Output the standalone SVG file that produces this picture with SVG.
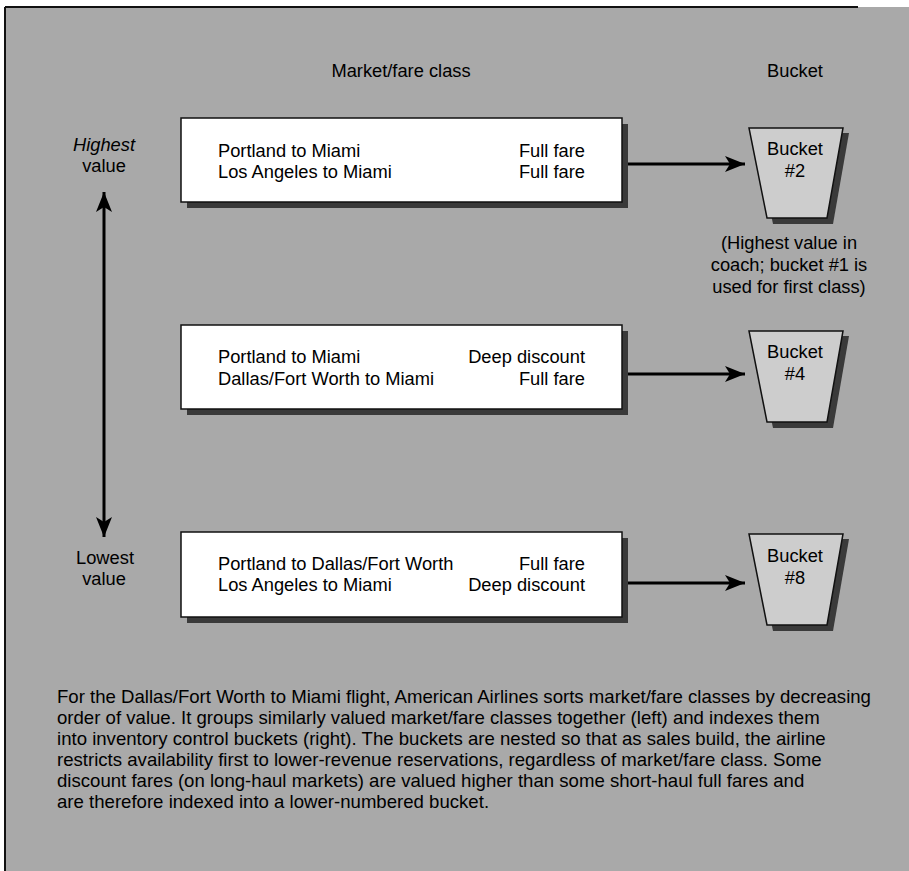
<svg xmlns="http://www.w3.org/2000/svg" width="909" height="871" viewBox="0 0 909 871">
  <style>
    text { font-family: "Liberation Sans", Arial, sans-serif; fill: #000; }
    .t18 { font-size: 18.3px; }
    .cap { font-size: 18.6px; }
    .mid { text-anchor: middle; }
    .end { text-anchor: end; }
    .box { fill: #ffffff; stroke: #111; stroke-width: 1.5; }
    .shadow { fill: #3a3a3a; }
    .bucket { fill: #cdcdcd; stroke: #111; stroke-width: 1.5; }
    .conn { stroke: #000; stroke-width: 3; fill: none; }
  </style>
  <defs>
    <marker id="ah" viewBox="0 0 20 16" refX="20" refY="8" markerWidth="20" markerHeight="16" markerUnits="userSpaceOnUse" orient="auto-start-reverse">
      <path d="M0,0 L20,8 L0,16 L5,8 Z" fill="#000"/>
    </marker>
  </defs>

  <rect x="0" y="0" width="909" height="871" fill="#ffffff"/>
  <g id="frame">
    <rect x="5" y="7" width="904" height="864" fill="#a9a9a9"/>
    <line x1="5" y1="7" x2="5" y2="871" stroke="#111" stroke-width="2"/>
    <line x1="5" y1="7" x2="858" y2="7" stroke="#111" stroke-width="2"/>
  </g>

  <g id="headers">
    <text class="t18 mid" x="401" y="77">Market/fare class</text>
    <text class="t18 mid" x="795" y="77">Bucket</text>
  </g>

  <g id="scale-labels">
    <text class="t18 mid" x="104" y="151" font-style="italic">Highest</text>
    <text class="t18 mid" x="104" y="172">value</text>
    <text class="t18 mid" x="105" y="564">Lowest</text>
    <text class="t18 mid" x="104" y="585">value</text>
  </g>

  <g id="connectors">
    <line class="conn" x1="104" y1="192" x2="104" y2="537" marker-start="url(#ah)" marker-end="url(#ah)"/>
    <line class="conn" x1="628" y1="164" x2="745" y2="164" marker-end="url(#ah)"/>
    <line class="conn" x1="628" y1="374" x2="745" y2="374" marker-end="url(#ah)"/>
    <line class="conn" x1="628" y1="583" x2="745" y2="583" marker-end="url(#ah)"/>
  </g>

  <g id="box1">
    <rect class="shadow" x="187" y="124" width="441" height="84"/>
    <rect class="box" x="181" y="118" width="441" height="84"/>
    <text class="t18" x="218" y="157">Portland to Miami</text>
    <text class="t18" x="218" y="178">Los Angeles to Miami</text>
    <text class="t18 end" x="585" y="157">Full fare</text>
    <text class="t18 end" x="585" y="178">Full fare</text>
  </g>

  <g id="box2">
    <rect class="shadow" x="187" y="331" width="441" height="84"/>
    <rect class="box" x="181" y="325" width="441" height="84"/>
    <text class="t18" x="218" y="363">Portland to Miami</text>
    <text class="t18" x="218" y="385">Dallas/Fort Worth to Miami</text>
    <text class="t18 end" x="585" y="363">Deep discount</text>
    <text class="t18 end" x="585" y="385">Full fare</text>
  </g>

  <g id="box3">
    <rect class="shadow" x="187" y="538" width="441" height="85"/>
    <rect class="box" x="181" y="532" width="441" height="85"/>
    <text class="t18" x="218" y="570">Portland to Dallas/Fort Worth</text>
    <text class="t18" x="218" y="591">Los Angeles to Miami</text>
    <text class="t18 end" x="585" y="570">Full fare</text>
    <text class="t18 end" x="585" y="591">Deep discount</text>
  </g>

  <g id="bucket2">
    <polygon class="shadow" points="754,133 849,133 833,224 773,224"/>
    <polygon class="bucket" points="749,128 843,128 827,218 767,218"/>
    <text class="t18 mid" x="795" y="155">Bucket</text>
    <text class="t18 mid" x="795" y="177">#2</text>
  </g>

  <g id="bucket2-note">
    <text class="t18 mid" x="789" y="249">(Highest value in</text>
    <text class="t18 mid" x="789" y="271">coach; bucket #1 is</text>
    <text class="t18 mid" x="789" y="293">used for first class)</text>
  </g>

  <g id="bucket4">
    <polygon class="shadow" points="754,336 849,336 833,428 773,428"/>
    <polygon class="bucket" points="749,331 843,331 827,422 767,422"/>
    <text class="t18 mid" x="795" y="358">Bucket</text>
    <text class="t18 mid" x="795" y="380">#4</text>
  </g>

  <g id="bucket8">
    <polygon class="shadow" points="754,539 849,539 833,631 773,631"/>
    <polygon class="bucket" points="749,534 843,534 827,625 767,625"/>
    <text class="t18 mid" x="795" y="562">Bucket</text>
    <text class="t18 mid" x="795" y="584">#8</text>
  </g>

  <g id="caption">
    <text class="cap" x="57" y="703">For the Dallas/Fort Worth to Miami flight, American Airlines sorts market/fare classes by decreasing</text>
    <text class="cap" x="57" y="724">order of value. It groups similarly valued market/fare classes together (left) and indexes them</text>
    <text class="cap" x="57" y="745">into inventory control buckets (right). The buckets are nested so that as sales build, the airline</text>
    <text class="cap" x="57" y="766">restricts availability first to lower-revenue reservations, regardless of market/fare class. Some</text>
    <text class="cap" x="57" y="787">discount fares (on long-haul markets) are valued higher than some short-haul full fares and</text>
    <text class="cap" x="57" y="808">are therefore indexed into a lower-numbered bucket.</text>
  </g>
</svg>
